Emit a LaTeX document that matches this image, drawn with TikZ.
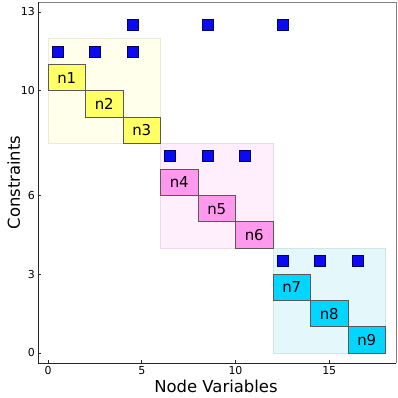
\documentclass[tikz,border=0pt]{standalone}
\usepackage{fontspec}
\setmainfont{DejaVu Sans}
\usetikzlibrary{positioning}
\definecolor{nyellow}{RGB}{255,255,102}
\definecolor{npink}{RGB}{255,153,238}
\definecolor{ncyan}{RGB}{0,214,255}
\definecolor{byellow}{RGB}{255,255,236}
\definecolor{bpink}{RGB}{255,238,252}
\definecolor{bcyan}{RGB}{228,248,252}
\definecolor{sqblue}{RGB}{10,10,245}
\definecolor{sqedge}{RGB}{0,0,90}
\definecolor{axgray}{RGB}{130,130,130}
\tikzset{
  var/.style={draw=black!65, line width=0.8pt, fill=#1, outer sep=0pt, inner sep=0pt,
              font=\fontsize{15}{15}\selectfont, minimum width=37.5bp, minimum height=26.23bp},
  blk/.style={fill=#1, draw=#1!92!black, line width=0.5pt},
  cons/.style={draw=sqedge, fill=sqblue, line width=0.6pt, minimum size=11bp, inner sep=0pt},
  ticklab/.style={font=\fontsize{11}{11}\selectfont, inner sep=0pt},
  axlab/.style={font=\fontsize{16.5}{16.5}\selectfont, inner sep=0pt},
}
\begin{document}
\begin{tikzpicture}[x=18.75bp, y=26.23bp]
  \useasboundingbox (-2.56,-1.716) rectangle (18.667,13.458);
  % Shaded blocks
  \filldraw[blk=byellow] (0,8) rectangle (6,12);
  \filldraw[blk=bpink] (6,4) rectangle (12,8);
  \filldraw[blk=bcyan] (12,0) rectangle (18,4);

  % Node variables
  \node[var=nyellow, anchor=south west] (n1) at (0,10) {n1};
  \node[var=nyellow, below right=0pt and 0pt of n1] (n2) {n2};
  \node[var=nyellow, below right=0pt and 0pt of n2] (n3) {n3};
  \node[var=npink, below right=26.23bp and 0pt of n3] (n4) {n4};
  \node[var=npink, below right=0pt and 0pt of n4] (n5) {n5};
  \node[var=npink, below right=0pt and 0pt of n5] (n6) {n6};
  \node[var=ncyan, below right=26.23bp and 0pt of n6] (n7) {n7};
  \node[var=ncyan, below right=0pt and 0pt of n7] (n8) {n8};
  \node[var=ncyan, below right=0pt and 0pt of n8] (n9) {n9};

  % Constraints
  \node[cons] (a1) at (0.5,11.5) {};
  \node[cons] (a2) at (2.5,11.5) {};
  \node[cons] (a3) at (4.5,11.5) {};
  \node[cons] (b1) at (6.5,7.5) {};
  \node[cons] (b2) at (8.5,7.5) {};
  \node[cons] (b3) at (10.5,7.5) {};
  \node[cons] (c1) at (12.5,3.5) {};
  \node[cons] (c2) at (14.5,3.5) {};
  \node[cons] (c3) at (16.5,3.5) {};
  \node[cons] (l1) at (4.5,12.5) {};
  \node[cons] (l2) at (8.5,12.5) {};
  \node[cons] (l3) at (12.5,12.5) {};

  % Axes
  \draw[axgray, line width=0.8pt] (-0.53,13.38) -- (18.56,13.38) -- (18.56,-0.38);
  \draw[black!85, line width=0.8pt] (-0.53,13.38) -- (-0.53,-0.38) -- (18.56,-0.38);
  \foreach \x in {0,5,10,15} {
    \draw[black!85, line width=0.6pt] (\x,-0.38) -- ++(0,2.5bp);
    \node[ticklab, anchor=north] (xt\x) at ([yshift=-3bp]\x,-0.38) {\x};
  }
  \foreach \y in {0,3,6,10,13} {
    \draw[black!85, line width=0.6pt] (-0.53,\y) -- ++(2.5bp,0);
    \node[ticklab, anchor=east] (yt\y) at ([xshift=-3bp]-0.53,\y) {\y};
  }
  \node[axlab, anchor=base] (xlab) at (8.96,-1.525) {Node Variables};
  \node[axlab, rotate=90] (ylab) at (-1.83,6.5) {Constraints};
\end{tikzpicture}
\end{document}
